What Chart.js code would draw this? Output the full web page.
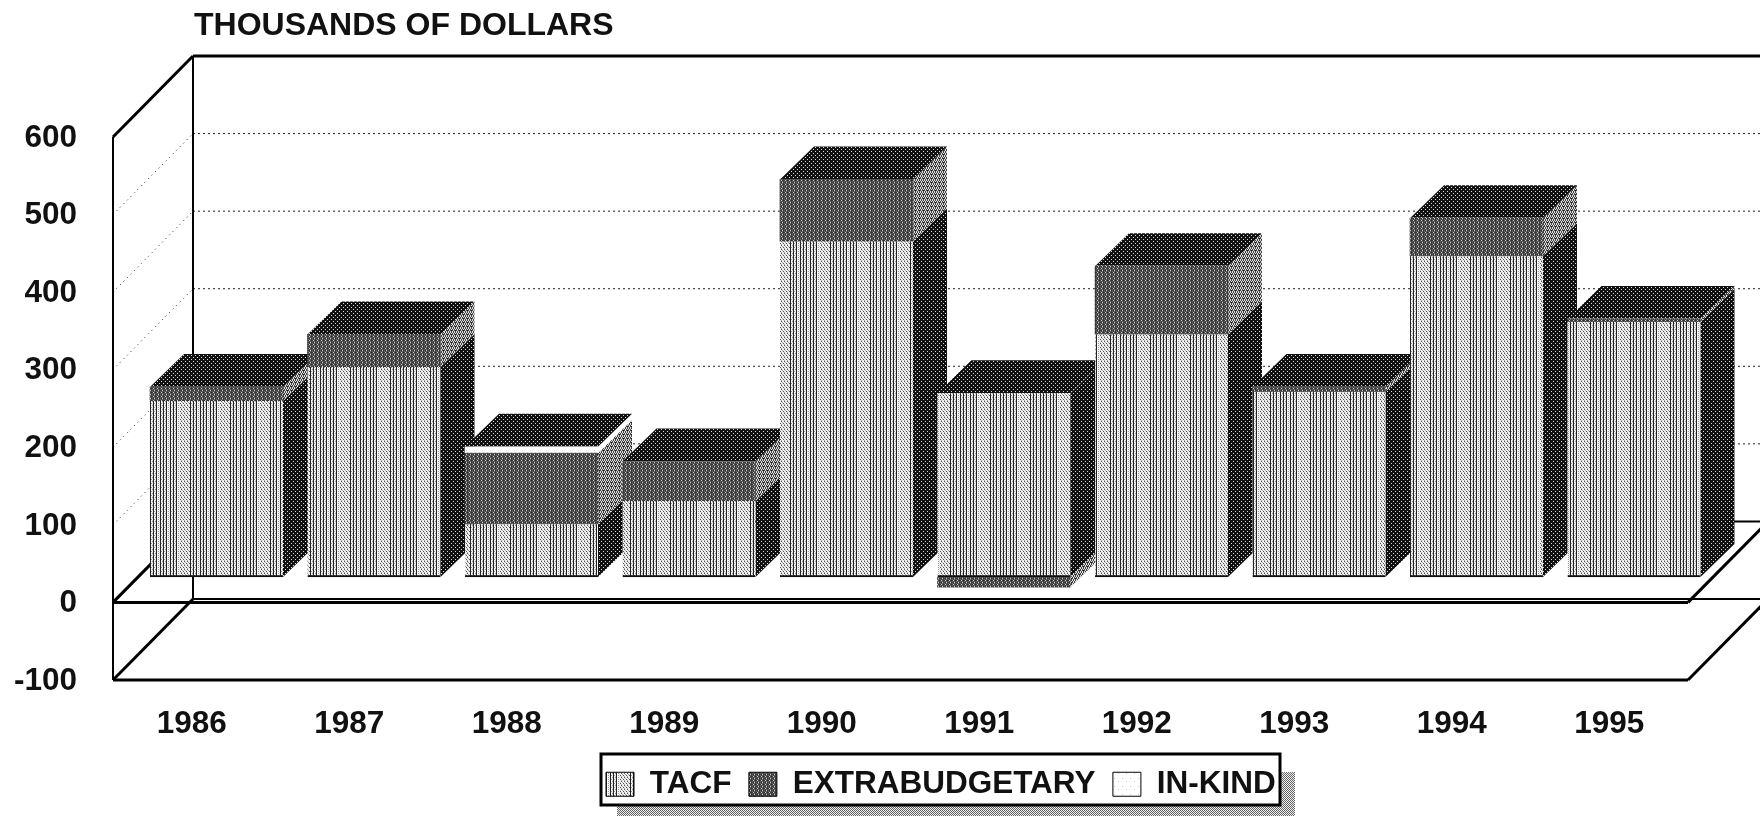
<!DOCTYPE html>
<html lang="en">
<head>
  <meta charset="UTF-8" />
  <title>Thousands of Dollars</title>
  <script src="https://cdn.jsdelivr.net/npm/chart.js"></script>
  <style>
    body { margin: 0; padding: 0; background: #fff; }
    canvas { display: block; }
  </style>
</head>
<body>
  <canvas id="fundsChart" width="1760" height="816"></canvas>

  <script>
    const years = [1986, 1987, 1988, 1989, 1990, 1991, 1992, 1993, 1994, 1995];
    const tacf = [227, 271, 68, 98, 433, 237, 313, 239, 414, 329];
    const extrabudgetary = [18, 42, 92, 51, 80, -13, 88, 6, 49, 4];
    const inKind = [0, 0, 8, 0, 0, 0, 0, 0, 0, 0];

    const TEXT = '#111';
    const FONT = { family: '"Liberation Sans", Arial, sans-serif', size: 31.5, weight: 'bold' };

    // pixel tile from rows of hex grey levels
    function tile(rows) {
      const c = document.createElement('canvas');
      c.width = rows[0].length;
      c.height = rows.length;
      const g = c.getContext('2d');
      rows.forEach((row, y) => {
        [...row].forEach((ch, x) => {
          g.fillStyle = '#' + ch + ch + ch;
          g.fillRect(x, y, 1, 1);
        });
      });
      return g.createPattern(c, 'repeat');
    }

    // vertical rules with dotted stretches, like the scanned halftone
    const stripes = tile([
      '2fd2fd2ffd2fd2fd2ffdeaeeaeeaee2fd2fd2ffd',
      '2e92e92f9e2e92e92f9ee5ee5ee5ee2e92e92f9e',
      '2fd2fd2ffd2fd2fd2ffdeeaeeaeeae2fd2fd2ffd',
      '29e29e2e9f29e29e2e9f5ee5ee5ee529e29e2e9f'
    ]);
    const dark = tile(['1111', '1d11', '1111', '111d']);
    const mid = tile(['3c43', '6464', '43c3', '6464']);
    const light = tile(['d4d4', '4d4d', '4d42', 'd4d4']);
    const speck = tile(['ffffffff', 'ffffffff', 'ffcfffff', 'ffffffff', 'ffffffff', 'ffffffcf', 'ffffffff', 'ffffffff']);
    const shade = tile(['6e', 'e6']);

    const sides = [dark, light, speck];

    // depth of the box and of the bars, in pixels
    const boxDx = 80, boxDy = 81;
    const barDx = 34, barDy = 33;

    function seg(ctx, x1, y1, x2, y2) {
      ctx.beginPath();
      ctx.moveTo(x1, y1);
      ctx.lineTo(x2, y2);
      ctx.stroke();
    }

    const boxPlugin = {
      id: 'box3d',
      afterLayout(chart) {
        chart.titleBlock.left = 194;
        chart.legend.left = 588.5;
        chart.legend.top = 751;
      },
      beforeDraw(chart) {
        const ctx = chart.ctx;
        const yS = chart.scales.y;
        const L = chart.chartArea.left, R = chart.chartArea.right;
        const top = yS.getPixelForValue(600), zero = yS.getPixelForValue(0), low = yS.getPixelForValue(-100);
        ctx.save();

        // gridlines up the wall
        ctx.strokeStyle = '#222';
        ctx.lineWidth = 1;
        [100, 200, 300, 400, 500].forEach(v => {
          const p = yS.getPixelForValue(v);
          ctx.setLineDash([1, 4]);
          seg(ctx, L, p, L + boxDx, p - boxDy);
          ctx.setLineDash([2, 3]);
          seg(ctx, L + boxDx, p - boxDy, 1760, p - boxDy);
        });
        ctx.setLineDash([]);

        // frame
        ctx.strokeStyle = '#000';
        ctx.lineWidth = 2;
        seg(ctx, L, top, L, low);
        seg(ctx, L + boxDx, top - boxDy, L + boxDx, low - boxDy);
        seg(ctx, L + boxDx, low - boxDy, 1760, low - boxDy);
        seg(ctx, L + boxDx, zero - boxDy, 1760, zero - boxDy);
        ctx.lineWidth = 3;
        seg(ctx, L, top, L + boxDx, top - boxDy);
        seg(ctx, L + boxDx, top - boxDy, 1760, top - boxDy);
        seg(ctx, L, zero, R, zero);
        seg(ctx, L, low, R, low);
        seg(ctx, L, zero, L + boxDx, zero - boxDy);
        seg(ctx, L, low, L + boxDx, low - boxDy);
        seg(ctx, R, zero, R + boxDx, zero - boxDy);
        seg(ctx, R, low, R + boxDx, low - boxDy);

        // legend frame
        ctx.fillStyle = shade;
        ctx.fillRect(617, 772, 678, 44);
        ctx.fillStyle = '#fff';
        ctx.fillRect(601, 754, 679, 51);
        ctx.strokeStyle = '#000';
        ctx.strokeRect(601, 754, 679, 51);
        ctx.restore();
      },
      beforeDatasetsDraw(chart) {
        const ctx = chart.ctx;
        ctx.save();
        years.forEach((yr, i) => {
          let capTop = null, capBar = null;
          chart.data.datasets.forEach((ds, d) => {
            const bar = chart.getDatasetMeta(d).data[i].getProps(['x', 'y', 'base', 'width'], true);
            const t = Math.min(bar.y, bar.base), b = Math.max(bar.y, bar.base);
            if (b - t < 0.5) return;
            const r = bar.x + bar.width / 2;
            ctx.fillStyle = sides[d];
            ctx.beginPath();
            ctx.moveTo(r, t);
            ctx.lineTo(r + barDx, t - barDy);
            ctx.lineTo(r + barDx, b - barDy);
            ctx.lineTo(r, b);
            ctx.closePath();
            ctx.fill();
            if (capTop === null || t < capTop) { capTop = t; capBar = bar; }
          });
          const l = capBar.x - capBar.width / 2, r = capBar.x + capBar.width / 2;
          ctx.fillStyle = dark;
          ctx.beginPath();
          ctx.moveTo(l, capTop);
          ctx.lineTo(l + barDx, capTop - barDy);
          ctx.lineTo(r + barDx, capTop - barDy);
          ctx.lineTo(r, capTop);
          ctx.closePath();
          ctx.fill();
        });
        ctx.restore();
      }
    };

    const points = arr => arr.map((v, i) => ({ x: years[i], y: v }));
    const barBase = { xAxisID: 'xBar', yAxisID: 'yBar', barThickness: 133, clip: false };

    new Chart(document.getElementById('fundsChart'), {
      type: 'bar',
      plugins: [boxPlugin],
      data: {
        labels: years,
        datasets: [
          {
            ...barBase, label: 'TACF', data: points(tacf), backgroundColor: stripes,
            borderColor: '#111', borderWidth: { bottom: 2 }, borderSkipped: false
          },
          { ...barBase, label: 'EXTRABUDGETARY', data: points(extrabudgetary), backgroundColor: mid },
          { ...barBase, label: 'IN-KIND', data: points(inKind), backgroundColor: speck }
        ]
      },
      options: {
        responsive: false,
        animation: false,
        events: [],
        layout: { padding: { right: 72 } },
        plugins: {
          tooltip: { enabled: false },
          title: {
            display: true,
            text: 'THOUSANDS OF DOLLARS',
            align: 'start',
            color: TEXT,
            font: { ...FONT, size: 32 },
            padding: { top: 7, bottom: 91.6 }
          },
          legend: {
            position: 'bottom',
            align: 'start',
            labels: {
              color: TEXT,
              font: FONT,
              boxWidth: 28,
              boxHeight: 24,
              padding: 17.5,
              generateLabels: chart => chart.data.datasets.map((ds, i) => ({
                text: ds.label,
                fillStyle: ds.backgroundColor,
                strokeStyle: '#000',
                lineWidth: 1,
                fontColor: TEXT,
                datasetIndex: i
              }))
            }
          }
        },
        scales: {
          x: {
            type: 'category',
            offset: true,
            grid: { display: false },
            border: { display: false },
            ticks: { color: TEXT, font: FONT, padding: 17, maxRotation: 0, autoSkip: false },
            afterFit: s => { s.height = 136 - s.chart.legend.height; }
          },
          y: {
            type: 'linear',
            min: -100,
            max: 600,
            grid: { display: false },
            border: { display: false },
            ticks: { color: TEXT, font: FONT, stepSize: 100, padding: 28, labelOffset: 1 },
            afterFit: s => { s.width = 113; }
          },
          // bars stand further back on the floor than the labelled front edge
          xBar: { type: 'linear', position: 'bottom', display: false, stacked: true, offset: false, min: 1985.343, max: 1995.343 },
          yBar: { type: 'linear', position: 'left', display: false, stacked: true, offset: false, min: -132.9, max: 567.7 }
        }
      }
    });
  </script>
</body>
</html>
